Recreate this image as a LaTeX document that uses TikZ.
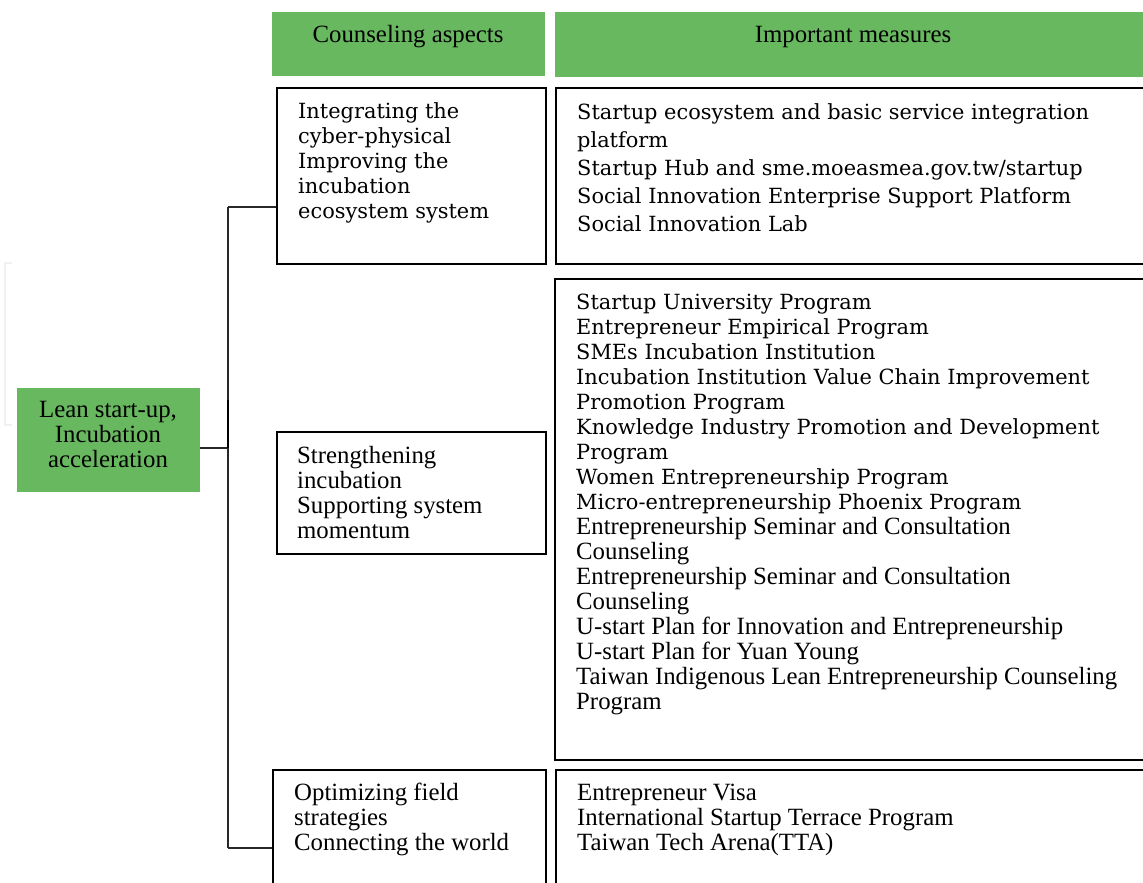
\documentclass[tikz,border=0pt]{standalone}
\usepackage{fontspec}
\setmainfont{Liberation Serif}
\newfontfamily\cam{DejaVu Serif}
\definecolor{hdgreen}{RGB}{104,184,96}
\definecolor{lnk}{RGB}{40,40,40}
\tikzset{
  frame/.style={draw=black, line width=1.5pt, fill=white, inner sep=0pt, anchor=north west},
  greenbox/.style={fill=hdgreen, draw=none, inner sep=0pt, anchor=north west},
  tms/.style={inner sep=0pt, font=\fontsize{24.8}{25}\selectfont},
  cmb/.style={inner sep=0pt, font=\cam\fontsize{20.9}{25}\selectfont},
  link/.style={draw=lnk, line width=1.2pt}
}
\begin{document}
\begin{tikzpicture}[x=1pt,y=1pt]
\useasboundingbox (0,0) rectangle (1143,-883);
\clip (0,0) rectangle (1143,-883);
\fill[white] (0,0) rectangle (1143,-883);

% faint bracket
\draw[gray!12, line width=1.5pt] (12,-263) -- (5,-263) -- (5,-425) -- (12,-425);

% headers
\node[greenbox, minimum width=273pt, minimum height=64pt] (h1) at (272,-12) {};
\node[greenbox, minimum width=600pt, minimum height=65pt] (h2) at (555,-12) {};
\node[tms, anchor=base] (h1t) at (408,-43) {Counseling aspects};
\node[tms, anchor=base] (h2t) at (853,-43) {Important measures};

% left box
\node[greenbox, minimum width=183pt, minimum height=104pt] (lean) at (17,-388) {};
\node[tms, anchor=base] (l1) at (108,-417) {Lean start-up,};
\node[tms, anchor=base] (l2) at (108,-442) {Incubation};
\node[tms, anchor=base] (l3) at (108,-467) {acceleration};

% aspect boxes
\node[frame, minimum width=269pt, minimum height=176pt] (asp1) at (276,-87) {};
\node[frame, minimum width=269pt, minimum height=122pt] (asp2) at (276,-431) {};
\node[frame, minimum width=273pt, minimum height=140pt] (asp3) at (272,-769) {};

% measure boxes
\node[frame, minimum width=600pt, minimum height=176pt] (mea1) at (555,-87) {};
\node[frame, minimum width=600pt, minimum height=481pt] (mea2) at (554,-278) {};
\node[frame, minimum width=600pt, minimum height=140pt] (mea3) at (555,-769) {};

% aspect texts
\foreach \t [count=\i] in {Integrating the, cyber-physical, Improving the, incubation, ecosystem system}
  \node[cmb, anchor=base west] (a1-\i) at (298,{-118-25*(\i-1)}) {\t};
\foreach \t [count=\i] in {Strengthening, incubation, Supporting system, momentum}
  \node[tms, anchor=base west] (a2-\i) at (297,{-463-25*(\i-1)}) {\t};
\foreach \t [count=\i] in {Optimizing field, strategies, Connecting the world}
  \node[tms, anchor=base west] (a3-\i) at (294,{-800-25*(\i-1)}) {\t};

% measure texts
\foreach \t [count=\i] in {Startup ecosystem and basic service integration, platform, Startup Hub and sme.moeasmea.gov.tw/startup, Social Innovation Enterprise Support Platform, Social Innovation Lab}
  \node[cmb, anchor=base west] (m1-\i) at (577,{-119-28.2*(\i-1)}) {\t};
\foreach \t [count=\i] in {Startup University Program, Entrepreneur Empirical Program, SMEs Incubation Institution, Incubation Institution Value Chain Improvement, Promotion Program, Knowledge Industry Promotion and Development, Program, Women Entrepreneurship Program, Micro-entrepreneurship Phoenix Program}
  \node[cmb, anchor=base west] (m2-\i) at (576,{-309-25*(\i-1)}) {\t};
\foreach \t [count=\i from 10] in {Entrepreneurship Seminar and Consultation, Counseling, Entrepreneurship Seminar and Consultation, Counseling, U-start Plan for Innovation and Entrepreneurship, U-start Plan for Yuan Young, Taiwan Indigenous Lean Entrepreneurship Counseling, Program}
  \node[tms, anchor=base west] (m2-\i) at (576,{-309-25*(\i-1)}) {\t};
\foreach \t [count=\i] in {Entrepreneur Visa, International Startup Terrace Program, Taiwan Tech Arena(TTA)}
  \node[tms, anchor=base west] (m3-\i) at (577,{-800-25*(\i-1)}) {\t};

% connectors
\coordinate (j) at (228,-448);
\coordinate (t1) at (228,-207);
\coordinate (t3) at (228,-848);
\draw[link] (lean.east |- j) -- (j);
\draw[link] (t1) -- (t3);
\draw[link] (t1) -- (asp1.west |- t1);
\draw[link] (t3) -- (asp3.west |- t3);
\draw[draw=black, line width=2.2pt] (228,-400) -- (j);
\end{tikzpicture}
\end{document}
